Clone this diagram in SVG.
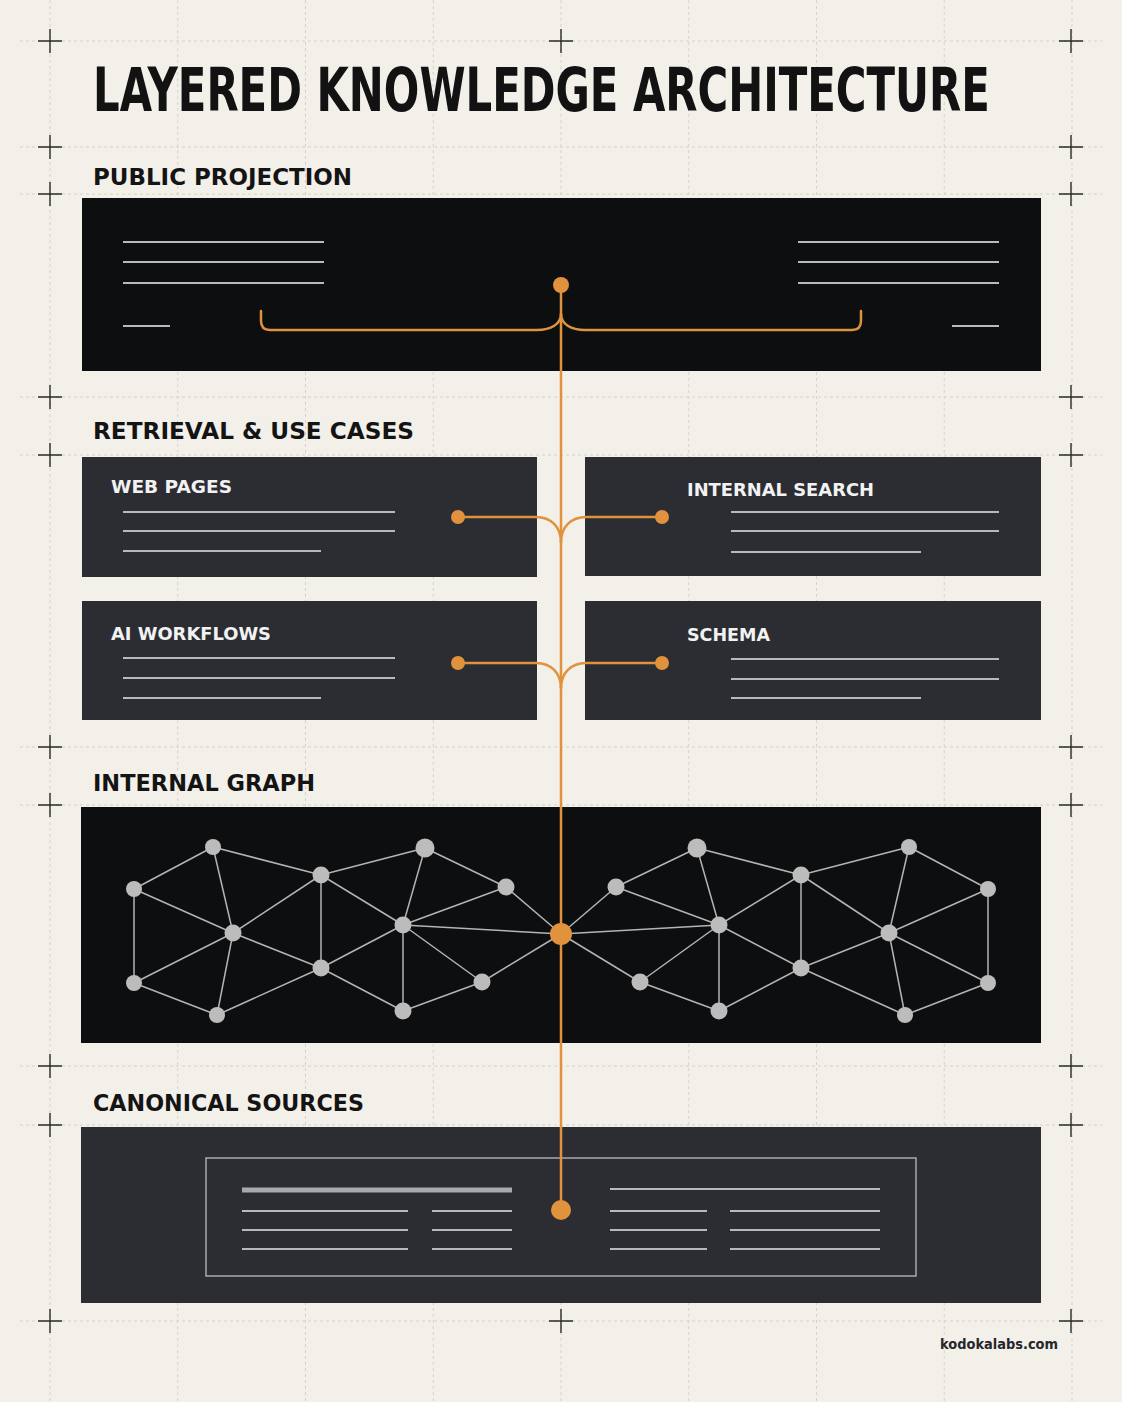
<svg xmlns="http://www.w3.org/2000/svg" width="1122" height="1402" viewBox="0 0 1122 1402">
<defs>
<style>
.grid{stroke:#d6d2cb;stroke-width:1;stroke-dasharray:3 3;fill:none}
.cross{stroke:#2a2a2a;stroke-width:1.4;fill:none}
.title{font-family:"DejaVu Sans Condensed","Liberation Sans Narrow","Liberation Sans",sans-serif;font-weight:bold;fill:#121212}
.sec{font-family:"DejaVu Sans","Liberation Sans",sans-serif;font-weight:bold;fill:#141414;font-size:23px}
.lbl{font-family:"DejaVu Sans","Liberation Sans",sans-serif;font-weight:bold;fill:#f2f2f2;font-size:18px}
.ln{stroke:#b9b9b9;stroke-width:2;fill:none}
.edge{stroke:#b4b4b4;stroke-width:1.5;fill:none}
.gn{fill:#bcbcbc}
.or{stroke:#e0923d;stroke-width:2.5;fill:none;stroke-linecap:round}
.od{fill:#e0923d}
.dark{fill:#0d0e10}
.slate{fill:#2b2d32}
</style>
</defs>
<rect x="0" y="0" width="1122" height="1402" fill="#f3f0ea"/>
<g id="grid">
<path class="grid" d="M50 0V1402M177.75 0V1402M305.5 0V1402M433.25 0V1402M561 0V1402M688.75 0V1402M816.5 0V1402M944.25 0V1402M1072 0V1402"/>
<path class="grid" d="M20 41H1102M20 147H1102M20 194H1102M20 397H1102M20 455H1102M20 747H1102M20 805H1102M20 1066H1102M20 1125H1102M20 1321H1102"/>
</g>
<g id="crosshairs">
<path class="cross" d="M38 41H62M50 29V53M1059 41H1083M1071 29V53M549 41H573M561 29V53M38 147H62M50 135V159M1059 147H1083M1071 135V159M38 194H62M50 182V206M1059 194H1083M1071 182V206M38 397H62M50 385V409M1059 397H1083M1071 385V409M38 455H62M50 443V467M1059 455H1083M1071 443V467M38 747H62M50 735V759M1059 747H1083M1071 735V759M38 805H62M50 793V817M1059 805H1083M1071 793V817M38 1066H62M50 1054V1078M1059 1066H1083M1071 1054V1078M38 1125H62M50 1113V1137M1059 1125H1083M1071 1113V1137M38 1321H62M50 1309V1333M1059 1321H1083M1071 1309V1333M549 1321H573M561 1309V1333"/>
</g>
<text class="title" transform="translate(93 111) scale(0.8 1)" x="0" y="0" font-size="61" textLength="1121" lengthAdjust="spacingAndGlyphs">LAYERED KNOWLEDGE ARCHITECTURE</text>

<g id="public-projection">
<text class="sec" x="93" y="185" textLength="259" lengthAdjust="spacingAndGlyphs">PUBLIC PROJECTION</text>
<rect class="dark" x="82" y="198" width="959" height="173"/>
<path class="ln" d="M123 242H324M123 262H324M123 283H324M123 326H170M798 242H999M798 262H999M798 283H999M952 326H999"/>
</g>

<g id="retrieval-use-cases">
<text class="sec" x="93" y="439" textLength="321" lengthAdjust="spacingAndGlyphs">RETRIEVAL &amp; USE CASES</text>
</g>
<g id="web-pages">
<rect class="slate" x="82" y="457" width="455" height="120"/>
<text class="lbl" x="111" y="493" textLength="121" lengthAdjust="spacingAndGlyphs">WEB PAGES</text>
<path class="ln" d="M123 512H395M123 531H395M123 551H321"/>
</g>
<g id="internal-search">
<rect class="slate" x="585" y="457" width="456" height="119"/>
<text class="lbl" x="687" y="496" textLength="187" lengthAdjust="spacingAndGlyphs">INTERNAL SEARCH</text>
<path class="ln" d="M731 512H999M731 531H999M731 552H921"/>
</g>
<g id="ai-workflows">
<rect class="slate" x="82" y="601" width="455" height="119"/>
<text class="lbl" x="111" y="640" textLength="160" lengthAdjust="spacingAndGlyphs">AI WORKFLOWS</text>
<path class="ln" d="M123 658H395M123 678H395M123 698H321"/>
</g>
<g id="schema">
<rect class="slate" x="585" y="601" width="456" height="119"/>
<text class="lbl" x="687" y="641" textLength="83" lengthAdjust="spacingAndGlyphs">SCHEMA</text>
<path class="ln" d="M731 659H999M731 679H999M731 698H921"/>
</g>

<g id="internal-graph">
<text class="sec" x="93" y="791" textLength="222" lengthAdjust="spacingAndGlyphs">INTERNAL GRAPH</text>
<rect class="dark" x="81" y="807" width="960" height="236"/>
<path class="edge" d="M213 847L134 889M213 847L321 875M213 847L233 933M134 889L233 933M134 889V983M134 983L233 933M233 933L217 1015M134 983L217 1015M217 1015L321 968M233 933L321 875M233 933L321 968M321 875V968M321 875L425 848M321 875L403 925M425 848L403 925M425 848L506 887M506 887L403 925M506 887L561 934M403 925L561 934M403 925L321 968M403 925V1011M403 925L482 982M321 968L403 1011M403 1011L482 982M482 982L561 934"/>
<path class="edge" d="M909 847L988 889M909 847L801 875M909 847L889 933M988 889L889 933M988 889V983M988 983L889 933M889 933L905 1015M988 983L905 1015M905 1015L801 968M889 933L801 875M889 933L801 968M801 875V968M801 875L697 848M801 875L719 925M697 848L719 925M697 848L616 887M616 887L719 925M616 887L561 934M719 925L561 934M719 925L801 968M719 925V1011M719 925L640 982M801 968L719 1011M719 1011L640 982M640 982L561 934"/>
<g class="gn">
<circle cx="213" cy="847" r="8"/><circle cx="134" cy="889" r="8"/><circle cx="233" cy="933" r="8.5"/><circle cx="134" cy="983" r="8"/><circle cx="217" cy="1015" r="8"/><circle cx="321" cy="875" r="8.5"/><circle cx="321" cy="968" r="8.5"/><circle cx="425" cy="848" r="9.5"/><circle cx="403" cy="925" r="8.5"/><circle cx="506" cy="887" r="8.5"/><circle cx="403" cy="1011" r="8.5"/><circle cx="482" cy="982" r="8.5"/>
<circle cx="909" cy="847" r="8"/><circle cx="988" cy="889" r="8"/><circle cx="889" cy="933" r="8.5"/><circle cx="988" cy="983" r="8"/><circle cx="905" cy="1015" r="8"/><circle cx="801" cy="875" r="8.5"/><circle cx="801" cy="968" r="8.5"/><circle cx="697" cy="848" r="9.5"/><circle cx="719" cy="925" r="8.5"/><circle cx="616" cy="887" r="8.5"/><circle cx="719" cy="1011" r="8.5"/><circle cx="640" cy="982" r="8.5"/>
</g>
</g>

<g id="canonical-sources">
<text class="sec" x="93" y="1111" textLength="271" lengthAdjust="spacingAndGlyphs">CANONICAL SOURCES</text>
<rect class="slate" x="81" y="1127" width="960" height="176"/>
<rect x="206" y="1158" width="710" height="118" fill="none" stroke="#a9a9a9" stroke-width="1.5"/>
<path d="M242 1190H512" stroke="#a9a9a9" stroke-width="5"/>
<path class="ln" d="M242 1211H408M242 1230H408M242 1249H408M432 1211H512M432 1230H512M432 1249H512M610 1189H880M610 1211H707M610 1230H707M610 1249H707M730 1211H880M730 1230H880M730 1249H880"/>
</g>

<g id="connectors">
<path class="or" d="M561 285V1210"/>
<path class="or" d="M261 311V321Q261 330 270 330H537C551 330 561 324 561 314"/>
<path class="or" d="M861 311V321Q861 330 852 330H585C571 330 561 324 561 314"/>
<path class="or" d="M458 517H536C551 517 561 527 561 542"/>
<path class="or" d="M662 517H586C571 517 561 527 561 542"/>
<path class="or" d="M458 663H536C551 663 561 673 561 688"/>
<path class="or" d="M662 663H586C571 663 561 673 561 688"/>
<circle class="od" cx="561" cy="285" r="8"/>
<circle class="od" cx="458" cy="517" r="7"/>
<circle class="od" cx="662" cy="517" r="7"/>
<circle class="od" cx="458" cy="663" r="7"/>
<circle class="od" cx="662" cy="663" r="7"/>
<circle class="od" cx="561" cy="934" r="11"/>
<circle class="od" cx="561" cy="1210" r="10"/>
</g>

<text x="1058" y="1349" text-anchor="end" font-family="DejaVu Sans,Liberation Sans,sans-serif" font-weight="bold" font-size="14" fill="#25272b" textLength="118" lengthAdjust="spacingAndGlyphs">kodokalabs.com</text>
</svg>
